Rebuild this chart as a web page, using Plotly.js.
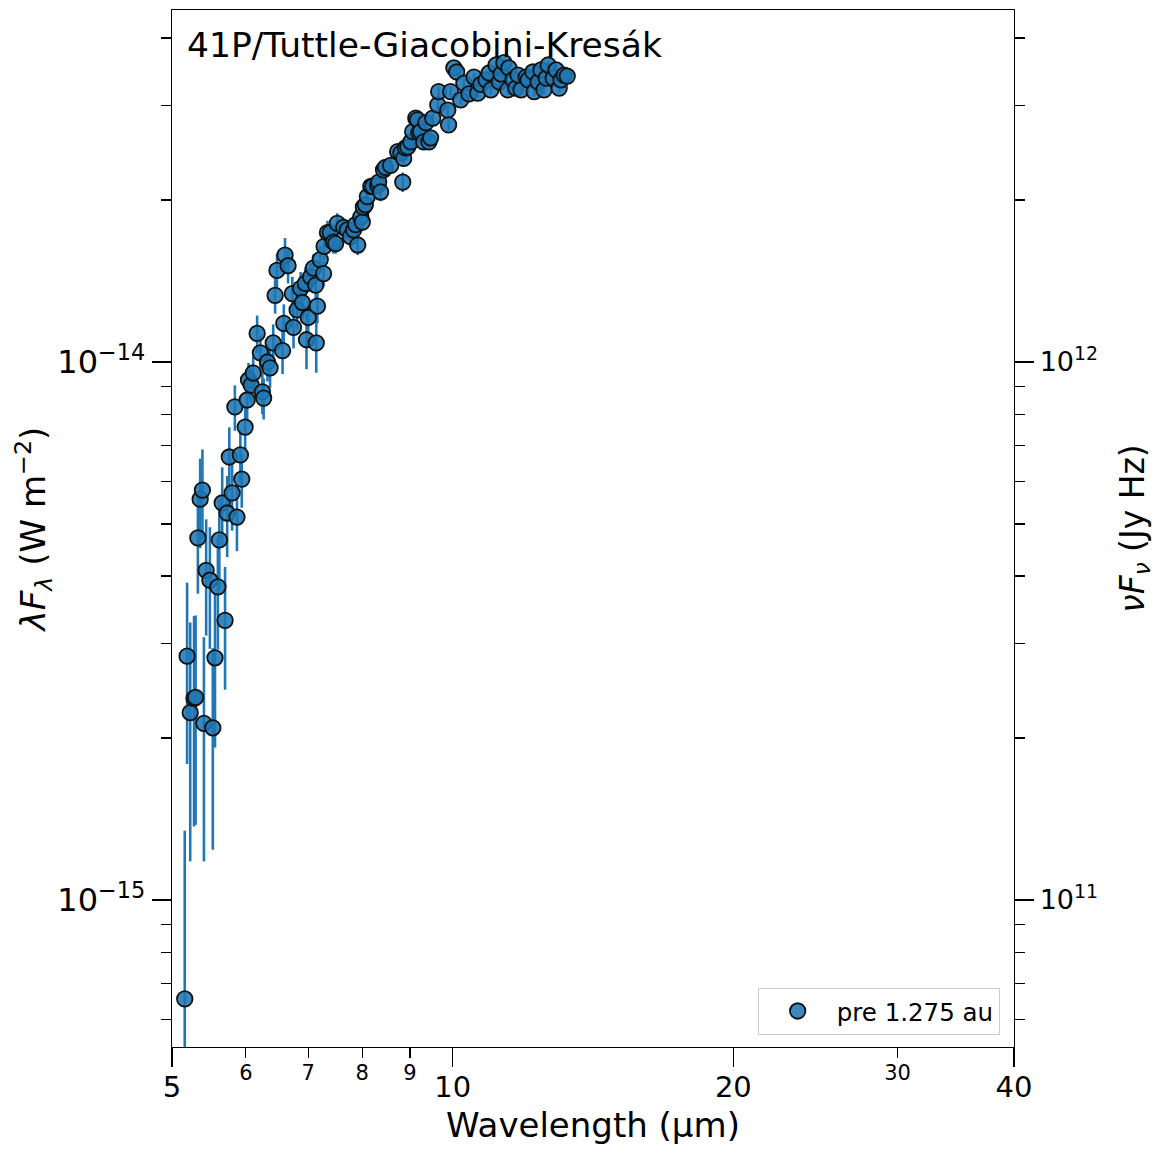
<!DOCTYPE html>
<html><head><meta charset="utf-8">
<script src="https://cdn.plot.ly/plotly-3.0.1.min.js"></script>
<style>html,body{margin:0;padding:0;background:#fff}#plot{width:1159px;height:1154px}</style>
</head><body><div id="plot"></div>
<script>
// Wavelength (µm)
const wavelength_um = [5.16,5.19,5.23,5.28,5.30,5.33,5.36,5.39,5.41,5.44,5.49,5.53,5.56,5.60,5.62,5.66,5.70,5.73,5.76,5.80,
5.84,5.87,5.92,5.94,5.99,6.02,6.04,6.08,6.11,6.17,6.22,6.25,6.27,6.33,6.37,6.42,6.45,6.48,6.57,6.59,
6.61,6.66,6.73,6.75,6.81,6.87,6.90,6.95,6.97,7.00,7.04,7.09,7.13,7.14,7.16,7.21,7.27,7.28,7.34,7.39,
7.45,7.49,7.52,7.64,7.71,7.77,7.83,7.87,7.91,7.97,8.00,8.02,8.06,8.10,8.17,8.21,8.31,8.33,8.37,8.43,
8.47,8.58,8.73,8.80,8.84,8.86,8.90,8.95,9.02,9.06,9.13,9.17,9.20,9.24,9.31,9.36,9.43,9.47,9.52,9.64,
9.66,9.88,9.90,9.95,10.03,10.10,10.20,10.28,10.41,10.54,10.64,10.72,10.86,10.94,10.99,11.13,11.22,11.27,11.35,11.46,
11.49,11.61,11.69,11.75,11.84,11.99,12.05,12.19,12.23,12.35,12.44,12.53,12.60,12.66,12.82,12.91,13.01,13.07,13.17,13.27];
// lambda F_lambda (W m^-2)
const lamF_lam = [0.655e-15,2.84e-15,2.23e-15,2.37e-15,2.38e-15,4.71e-15,5.56e-15,5.78e-15,2.13e-15,4.10e-15,3.93e-15,2.09e-15,2.82e-15,3.82e-15,4.67e-15,5.47e-15,3.31e-15,5.24e-15,6.66e-15,5.71e-15,
8.25e-15,5.15e-15,6.72e-15,6.06e-15,7.57e-15,8.50e-15,9.26e-15,9.06e-15,9.54e-15,11.3e-15,10.4e-15,8.80e-15,8.57e-15,10.0e-15,9.75e-15,10.85e-15,13.3e-15,14.8e-15,10.5e-15,11.8e-15,
15.8e-15,15.1e-15,13.4e-15,11.6e-15,12.5e-15,13.7e-15,12.9e-15,14.0e-15,11.0e-15,12.1e-15,14.4e-15,14.95e-15,13.9e-15,10.85e-15,12.7e-15,15.5e-15,14.6e-15,16.4e-15,17.4e-15,17.4e-15,
16.7e-15,16.6e-15,18.1e-15,17.8e-15,17.6e-15,17.1e-15,17.6e-15,18.0e-15,16.5e-15,18.6e-15,18.2e-15,19.4e-15,19.6e-15,20.3e-15,21.2e-15,21.2e-15,21.3e-15,21.6e-15,20.7e-15,22.75e-15,
23.0e-15,23.2e-15,24.6e-15,24.45e-15,21.6e-15,23.9e-15,25.0e-15,25.1e-15,25.65e-15,26.8e-15,28.4e-15,28.2e-15,26.65e-15,26.8e-15,25.65e-15,27.85e-15,25.65e-15,26.1e-15,28.4e-15,30.05e-15,
31.8e-15,29.4e-15,27.6e-15,31.8e-15,35.2e-15,34.6e-15,30.7e-15,33.0e-15,31.5e-15,33.85e-15,31.6e-15,32.8e-15,33.45e-15,34.45e-15,32.05e-15,35.65e-15,33.15e-15,34.3e-15,36.0e-15,32.05e-15,
35.2e-15,33.45e-15,32.3e-15,34.15e-15,32.05e-15,33.85e-15,33.45e-15,34.6e-15,31.8e-15,33.15e-15,34.9e-15,32.05e-15,33.7e-15,35.65e-15,33.7e-15,34.9e-15,32.3e-15,33.45e-15,34.15e-15,34.0e-15];
// 1-sigma uncertainty (W m^-2)
const lamF_lam_err = [0.69e-15,1.05e-15,1.05e-15,1.0e-15,1.0e-15,1.0e-15,1.05e-15,1.1e-15,0.95e-15,1.0e-15,1.0e-15,0.85e-15,0.9e-15,0.9e-15,0.9e-15,0.9e-15,0.85e-15,0.9e-15,0.9e-15,0.85e-15,
0.8e-15,0.7e-15,0.75e-15,0.7e-15,0.7e-15,0.75e-15,0.7e-15,0.65e-15,0.7e-15,0.9e-15,0.8e-15,0.8e-15,0.75e-15,0.8e-15,0.8e-15,0.9e-15,1.0e-15,1.1e-15,1.0e-15,1.0e-15,
1.2e-15,1.1e-15,1.0e-15,1.0e-15,1.0e-15,1.0e-15,0.9e-15,1.0e-15,1.3e-15,0.9e-15,0.9e-15,0.9e-15,0.9e-15,1.3e-15,0.9e-15,0.9e-15,0.8e-15,0.9e-15,0.9e-15,0.8e-15,
0.8e-15,0.7e-15,0.8e-15,0.7e-15,0.7e-15,0.7e-15,0.7e-15,0.7e-15,0.7e-15,0.7e-15,0.7e-15,0.8e-15,0.8e-15,0.8e-15,0.8e-15,0.8e-15,0.8e-15,0.8e-15,0.8e-15,0.8e-15,
0.8e-15,0.8e-15,0.8e-15,0.8e-15,0.9e-15,0.8e-15,0.8e-15,0.8e-15,0.8e-15,0.8e-15,0.8e-15,0.8e-15,0.8e-15,0.8e-15,0.8e-15,0.8e-15,0.8e-15,0.8e-15,0.8e-15,0.7e-15,
0.7e-15,0.7e-15,0.7e-15,0.7e-15,0.6e-15,0.6e-15,0.6e-15,0.6e-15,0.6e-15,0.6e-15,0.6e-15,0.6e-15,0.6e-15,0.6e-15,0.6e-15,0.6e-15,0.6e-15,0.6e-15,0.6e-15,0.6e-15,
0.6e-15,0.6e-15,0.6e-15,0.6e-15,0.6e-15,0.6e-15,0.6e-15,0.6e-15,0.6e-15,0.6e-15,0.6e-15,0.6e-15,0.6e-15,0.6e-15,0.6e-15,0.6e-15,0.6e-15,0.6e-15,0.6e-15,0.6e-15];

const series_label = 'pre 1.275 au';
const comet_name = '41P/Tuttle-Giacobini-Kresák';
const x_major_ticks = [5, 10, 20, 40];
const x_minor_ticks = [6, 7, 8, 9, 30];
const y_major_ticks = [1e-15, 1e-14];
const y_major_labels = ['10<sup>−15</sup>', '10<sup>−14</sup>'];
const y_minor_ticks = [6e-16,7e-16,8e-16,9e-16,2e-15,3e-15,4e-15,5e-15,6e-15,7e-15,8e-15,9e-15,2e-14,3e-14,4e-14];
const y2_major_ticks = [1e11, 1e12];
const y2_major_labels = ['10<sup>11</sup>', '10<sup>12</sup>'];
const y2_minor_ticks = [6e10,7e10,8e10,9e10,2e11,3e11,4e11,5e11,6e11,7e11,8e11,9e11,2e12,3e12,4e12];
const JY_HZ_PER_W_M2 = 1e26;

const xRange = [Math.log10(5), Math.log10(40)];
const yRange = [-15.2732, -13.3457];
const y2Range = yRange.map(v => v + Math.log10(JY_HZ_PER_W_M2));

const FONT = 'DejaVu Sans, Verdana, sans-serif';
const C0 = '#1f77b4';

const traces = [
  {
    type: 'scatter', mode: 'markers', name: series_label,
    x: wavelength_um, y: lamF_lam,
    error_y: {type: 'data', array: lamF_lam_err, visible: true, color: C0, thickness: 2.6, width: 0},
    marker: {size: 15.5, color: 'rgba(31,119,180,0.88)', line: {color: '#111', width: 1.8}},
    xaxis: 'x', yaxis: 'y'
  },
  {type: 'scatter', mode: 'markers', x: [], y: [], xaxis: 'x2', yaxis: 'y', showlegend: false, hoverinfo: 'skip'},
  {type: 'scatter', mode: 'markers', x: [], y: [], xaxis: 'x', yaxis: 'y2', showlegend: false, hoverinfo: 'skip'},
  {type: 'scatter', mode: 'markers', x: [], y: [], xaxis: 'x', yaxis: 'y3', showlegend: false, hoverinfo: 'skip'},
  {type: 'scatter', mode: 'markers', x: [], y: [], xaxis: 'x', yaxis: 'y4', showlegend: false, hoverinfo: 'skip'}
];

const common = {showgrid: false, zeroline: false, ticks: 'outside', tickcolor: '#000', tickwidth: 1.3, fixedrange: true};

const layout = {
  width: 1159, height: 1154,
  margin: {l: 172, r: 145, t: 10, b: 107, pad: 0},
  paper_bgcolor: '#fff', plot_bgcolor: '#fff',
  font: {family: FONT, color: '#000'},
  showlegend: true,
  legend: {x: 0.983, xanchor: 'right', y: 0.012, yanchor: 'bottom', bgcolor: '#fff',
           bordercolor: '#cccccc', borderwidth: 1, itemwidth: 68, font: {size: 24.5, family: FONT}},
  xaxis: Object.assign({}, common, {
    type: 'log', range: xRange, tickmode: 'array', tickvals: x_major_ticks,
    ticktext: x_major_ticks.map(String), ticklen: 19, tickfont: {size: 29}, ticklabelstandoff: -5,
    showline: true, linecolor: '#000', linewidth: 1.3, mirror: true,
    title: {text: 'Wavelength (µm)', font: {size: 34}, standoff: 10}
  }),
  xaxis2: Object.assign({}, common, {
    type: 'log', range: xRange, overlaying: 'x', anchor: 'y', side: 'bottom',
    tickmode: 'array', tickvals: x_minor_ticks, ticktext: x_minor_ticks.map(String),
    ticklen: 10, tickfont: {size: 21}, ticklabelstandoff: -3, showline: false
  }),
  yaxis: Object.assign({}, common, {
    type: 'log', range: yRange, tickmode: 'array', tickvals: y_major_ticks, ticktext: y_major_labels,
    ticklen: 19, tickfont: {size: 32}, showline: true, linecolor: '#000', linewidth: 1.3,
    title: {text: '<i>λF</i><sub><i>λ</i></sub> (W m<sup>−2</sup>)', font: {size: 34}, standoff: 1}
  }),
  yaxis3: Object.assign({}, common, {
    type: 'log', range: yRange, overlaying: 'y', side: 'left', anchor: 'x',
    tickmode: 'array', tickvals: y_minor_ticks, showticklabels: false, ticklen: 10, showline: false
  }),
  yaxis2: Object.assign({}, common, {
    type: 'log', range: y2Range, overlaying: 'y', side: 'right', anchor: 'x',
    tickmode: 'array', tickvals: y2_major_ticks, ticktext: y2_major_labels,
    ticklen: 19, tickfont: {size: 27}, showline: true, linecolor: '#000', linewidth: 1.3,
    title: {text: '<i>νF</i><sub><i>ν</i></sub> (Jy Hz)', font: {size: 33}, standoff: 23}
  }),
  yaxis4: Object.assign({}, common, {
    type: 'log', range: y2Range, overlaying: 'y', side: 'right', anchor: 'x',
    tickmode: 'array', tickvals: y2_minor_ticks, showticklabels: false, ticklen: 10, showline: false
  }),
  annotations: [{
    text: comet_name, xref: 'paper', yref: 'paper', x: 0.016, y: 0.966,
    xanchor: 'left', yanchor: 'middle', showarrow: false, font: {size: 34.5, family: FONT, color: '#000'}
  }]
};

Plotly.newPlot('plot', traces, layout, {displayModeBar: false, staticPlot: true});
</script>
</body></html>
